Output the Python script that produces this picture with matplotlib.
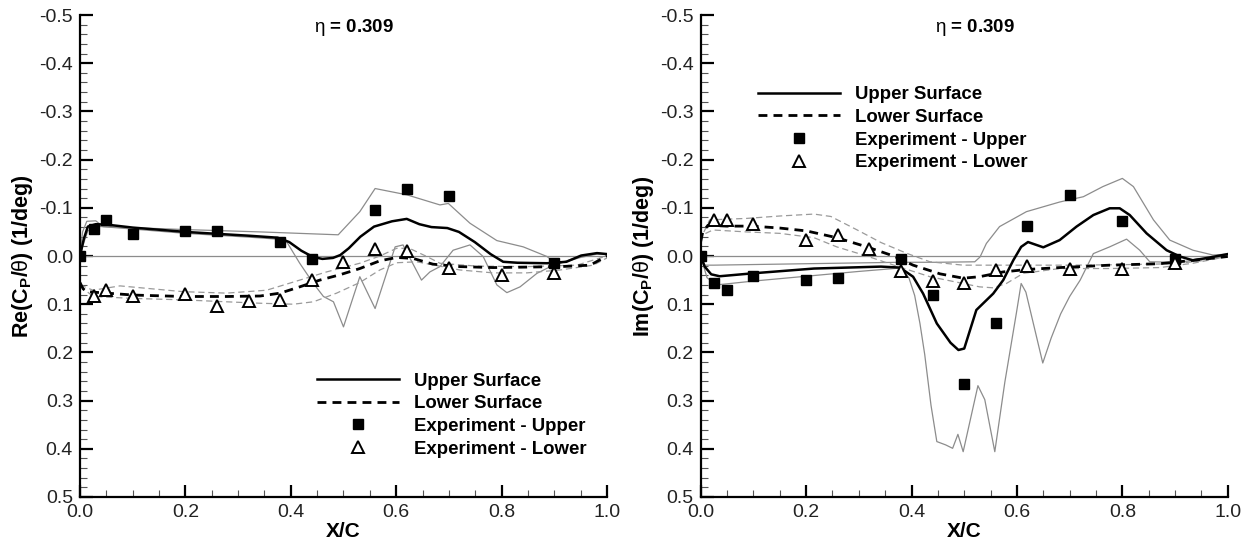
import numpy as np
import matplotlib
matplotlib.use("Agg")
import matplotlib.pyplot as plt
from matplotlib.ticker import MultipleLocator, FormatStrFormatter

plt.rcParams['font.family'] = ['Liberation Sans', 'DejaVu Sans']
plt.rcParams['mathtext.fontset'] = 'custom'
plt.rcParams['mathtext.rm'] = 'Liberation Sans'
plt.rcParams['mathtext.it'] = 'Liberation Sans'
plt.rcParams['mathtext.bf'] = 'Liberation Sans:bold'
plt.rcParams['axes.unicode_minus'] = False

# ---------------- Re(Cp/theta) panel ----------------
re_up_x = [0, 0.0075, 0.015, 0.03, 0.052, 0.10, 0.20, 0.26, 0.322, 0.375, 0.397, 0.42, 0.442, 0.46,
           0.48, 0.494, 0.51, 0.532, 0.558, 0.592, 0.62, 0.644, 0.667, 0.697, 0.719, 0.749, 0.779,
           0.803, 0.83, 0.886, 0.923, 0.951, 0.981, 1.0]
re_up_y = [0, -0.036, -0.061, -0.066, -0.065, -0.059, -0.050, -0.046, -0.042, -0.038, -0.029, -0.011,
           0.002, 0.006, 0.004, -0.002, -0.016, -0.040, -0.061, -0.072, -0.077, -0.066, -0.060, -0.058,
           -0.050, -0.029, -0.004, 0.012, 0.014, 0.015, 0.012, -0.001, -0.006, -0.004]

re_lo_x = [0.0, 0.006, 0.013, 0.051, 0.101, 0.196, 0.278, 0.342, 0.38, 0.417, 0.455, 0.493, 0.531,
           0.569, 0.601, 0.632, 0.670, 0.721, 0.784, 0.848, 0.911, 0.968, 1.0]
re_lo_y = [0.055, 0.068, 0.074, 0.077, 0.081, 0.084, 0.084, 0.083, 0.077, 0.064, 0.050, 0.039, 0.026,
           0.010, 0.003, 0.005, 0.017, 0.022, 0.024, 0.023, 0.022, 0.019, 0.0]

# thin grey bounding curves
re_up_hi_x = [0, 0.005, 0.013, 0.03, 0.044, 0.196, 0.342, 0.49, 0.531, 0.56, 0.62, 0.683, 0.699,
              0.74, 0.791, 0.841, 0.886, 0.905, 0.95, 0.981, 1.0]
re_up_hi_y = [0, -0.05, -0.072, -0.073, -0.061, -0.055, -0.050, -0.044, -0.092, -0.140, -0.127, -0.106,
              -0.109, -0.068, -0.032, -0.019, 0.001, 0.017, 0.0, -0.006, -0.004]
re_up_lo_x = [0, 0.008, 0.015, 0.03, 0.10, 0.20, 0.322, 0.375, 0.392, 0.417, 0.443, 0.462, 0.481,
              0.50, 0.531, 0.56, 0.598, 0.613, 0.648, 0.664, 0.683, 0.708, 0.74, 0.765, 0.791,
              0.81, 0.835, 0.867, 0.898, 0.95, 0.981, 1.0]
re_up_lo_y = [0, -0.03, -0.052, -0.062, -0.056, -0.047, -0.039, -0.035, -0.030, 0.015, 0.057, 0.084,
              0.095, 0.147, 0.043, 0.109, -0.019, -0.023, 0.050, 0.033, 0.022, -0.012, -0.023, 0.001,
              0.060, 0.076, 0.064, 0.036, 0.019, 0.003, -0.004, -0.003]
re_lo_hi_x = [0, 0.025, 0.076, 0.196, 0.278, 0.354, 0.417, 0.468, 0.531, 0.569, 0.601, 0.625,
              0.658, 0.683, 0.753, 0.848, 0.943, 0.99, 1.0]
re_lo_hi_y = [0.060, 0.071, 0.062, 0.074, 0.077, 0.071, 0.050, 0.033, 0.015, 0.0, -0.016, -0.016,
              0.001, 0.015, 0.021, 0.022, 0.019, 0.003, 0.0]
re_lo_lo_x = [0, 0.025, 0.101, 0.196, 0.278, 0.342, 0.405, 0.443, 0.487, 0.531, 0.569, 0.601, 0.639,
              0.721, 0.784, 0.848, 0.911, 0.974, 1.0]
re_lo_lo_y = [0.062, 0.084, 0.088, 0.091, 0.095, 0.098, 0.100, 0.095, 0.077, 0.055, 0.029, 0.014,
              0.012, 0.029, 0.035, 0.035, 0.029, 0.019, 0.004]

re_exp_up_x = [0.0, 0.026, 0.05, 0.10, 0.20, 0.26, 0.38, 0.44, 0.56, 0.62, 0.70, 0.90]
re_exp_up_y = [0.0, -0.057, -0.075, -0.046, -0.051, -0.051, -0.029, 0.007, -0.096, -0.139, -0.124, 0.014]
re_exp_lo_x = [0.026, 0.05, 0.10, 0.20, 0.26, 0.32, 0.38, 0.44, 0.50, 0.56, 0.62, 0.70, 0.80, 0.90]
re_exp_lo_y = [0.082, 0.071, 0.082, 0.079, 0.104, 0.093, 0.091, 0.050, 0.012, -0.014, -0.011, 0.025,
               0.039, 0.036]

# ---------------- Im(Cp/theta) panel ----------------
im_up_x = [0, 0.0076, 0.020, 0.036, 0.098, 0.215, 0.342, 0.378, 0.403, 0.422, 0.448, 0.474, 0.489,
           0.50, 0.523, 0.555, 0.574, 0.593, 0.608, 0.621, 0.65, 0.681, 0.713, 0.745, 0.776, 0.795,
           0.814, 0.846, 0.884, 0.909, 0.934, 0.966, 1.0]
im_up_y = [0, 0.022, 0.038, 0.042, 0.036, 0.026, 0.022, 0.024, 0.043, 0.078, 0.140, 0.180, 0.195,
           0.192, 0.112, 0.078, 0.050, 0.009, -0.019, -0.029, -0.018, -0.033, -0.061, -0.085, -0.099,
           -0.099, -0.085, -0.047, -0.012, 0.001, 0.009, 0.003, -0.004]

im_lo_x = [0.0, 0.004, 0.014, 0.049, 0.098, 0.15, 0.201, 0.258, 0.315, 0.366, 0.403, 0.454, 0.498,
           0.529, 0.574, 0.618, 0.681, 0.776, 0.871, 0.934, 1.0]
im_lo_y = [-0.03, -0.050, -0.064, -0.062, -0.062, -0.058, -0.052, -0.038, -0.019, 0.0, 0.019, 0.037,
           0.046, 0.043, 0.033, 0.028, 0.024, 0.019, 0.016, 0.009, 0.001]

im_up_hi_x = [0, 0.008, 0.024, 0.20, 0.378, 0.45, 0.52, 0.53, 0.542, 0.567, 0.618, 0.681, 0.726,
              0.763, 0.80, 0.821, 0.859, 0.89, 0.934, 0.972, 1.0]
im_up_hi_y = [0, 0.019, 0.019, 0.016, 0.013, 0.013, 0.012, 0.002, -0.026, -0.061, -0.092, -0.112,
              -0.123, -0.144, -0.161, -0.144, -0.075, -0.033, -0.012, -0.002, -0.004]
im_up_lo_x = [0, 0.012, 0.03, 0.10, 0.20, 0.30, 0.378, 0.395, 0.406, 0.416, 0.425, 0.437, 0.448,
              0.465, 0.478, 0.488, 0.498, 0.526, 0.539, 0.558, 0.577, 0.599, 0.608, 0.617, 0.649,
              0.665, 0.683, 0.70, 0.72, 0.745, 0.776, 0.808, 0.833, 0.852, 0.90, 0.95, 1.0]
im_up_lo_y = [0, 0.045, 0.060, 0.052, 0.042, 0.032, 0.025, 0.045, 0.082, 0.140, 0.204, 0.31, 0.385,
              0.392, 0.399, 0.370, 0.406, 0.269, 0.298, 0.406, 0.262, 0.118, 0.057, 0.075, 0.222,
              0.17, 0.12, 0.084, 0.050, -0.005, -0.019, -0.035, -0.012, 0.012, 0.013, 0.008, 0.0]
im_lo_hi_x = [0.0, 0.004, 0.017, 0.087, 0.15, 0.215, 0.247, 0.297, 0.342, 0.39, 0.435, 0.498, 0.555,
              0.618, 0.70, 0.80, 0.90, 0.95, 1.0]
im_lo_hi_y = [-0.03, -0.045, -0.075, -0.078, -0.083, -0.087, -0.082, -0.054, -0.028, -0.006, 0.012,
              0.019, 0.019, 0.019, 0.019, 0.018, 0.016, 0.010, 0.001]
im_lo_lo_x = [0.0, 0.004, 0.023, 0.087, 0.15, 0.215, 0.258, 0.315, 0.372, 0.435, 0.498, 0.529, 0.555,
              0.58, 0.612, 0.681, 0.776, 0.871, 0.934, 1.0]
im_lo_lo_y = [-0.03, -0.044, -0.054, -0.050, -0.047, -0.038, -0.019, 0.0, 0.021, 0.043, 0.057, 0.064,
              0.066, 0.057, 0.036, 0.026, 0.026, 0.024, 0.015, 0.001]

im_exp_up_x = [0.0, 0.025, 0.05, 0.10, 0.20, 0.26, 0.38, 0.44, 0.50, 0.56, 0.62, 0.70, 0.80, 0.90]
im_exp_up_y = [0.0, 0.055, 0.071, 0.041, 0.050, 0.046, 0.006, 0.080, 0.265, 0.140, -0.062, -0.126,
               -0.072, 0.006]
im_exp_lo_x = [0.025, 0.05, 0.10, 0.20, 0.26, 0.32, 0.38, 0.44, 0.50, 0.56, 0.62, 0.70, 0.80, 0.90]
im_exp_lo_y = [-0.074, -0.074, -0.067, -0.033, -0.044, -0.014, 0.031, 0.052, 0.055, 0.029, 0.021,
               0.026, 0.026, 0.014]

eta_text = r'$\eta$ = 0.309'
legend_labels = ['Upper Surface', 'Lower Surface', 'Experiment - Upper', 'Experiment - Lower']

grey = '#8c8c8c'
dash = (0, (3.2, 2.2))


def draw_panel(ax, up, lo, up_hi, up_lo, lo_hi, lo_lo, exp_up, exp_lo, ylabel, leg_xy):
    ax.plot([0, 1], [0, 0], color=grey, lw=0.9)
    ax.plot(*up_hi, color=grey, lw=0.9)
    ax.plot(*up_lo, color=grey, lw=0.9)
    ax.plot(*lo_hi, color='#9a9a9a', lw=0.9, ls=(0, (5, 3)))
    ax.plot(*lo_lo, color='#9a9a9a', lw=0.9, ls=(0, (5, 3)))
    h1, = ax.plot(*up, color='black', lw=1.8)
    h2, = ax.plot(*lo, color='black', lw=2.0, ls=dash)
    h3, = ax.plot(*exp_up, ls='none', marker='s', ms=7, mfc='black', mec='black')
    h4, = ax.plot(*exp_lo, ls='none', marker='^', ms=9, mfc='white', mec='black', mew=1.4)

    ax.set_xlim(0, 1)
    ax.set_ylim(0.5, -0.5)
    ax.spines['top'].set_visible(False)
    ax.spines['right'].set_visible(False)
    ax.spines['left'].set_linewidth(1.6)
    ax.spines['bottom'].set_linewidth(1.6)
    ax.xaxis.set_major_locator(MultipleLocator(0.2))
    ax.xaxis.set_minor_locator(MultipleLocator(0.05))
    ax.yaxis.set_major_locator(MultipleLocator(0.1))
    ax.yaxis.set_minor_locator(MultipleLocator(0.02))
    ax.xaxis.set_major_formatter(FormatStrFormatter('%.1f'))
    ax.yaxis.set_major_formatter(FormatStrFormatter('%.1f'))
    ax.tick_params(which='major', direction='in', length=9, width=1.6, labelsize=14,
                   labelcolor='#222222', pad=5)
    ax.tick_params(which='minor', direction='in', length=5, width=0.8, color='#555555')
    ax.set_xlabel('X/C', fontsize=15, fontweight='bold', labelpad=1)
    ax.set_ylabel(ylabel, fontsize=15.5, fontweight='bold', labelpad=3)
    ax.text(0.52, -0.475, eta_text, fontsize=13.5, fontweight='bold', ha='center', va='center')
    ax.legend([h1, h2, h3, h4], legend_labels, loc='upper left', bbox_to_anchor=leg_xy,
              frameon=False, borderpad=0, borderaxespad=0, handlelength=4.45,
              handletextpad=0.8, labelspacing=0.3, prop={'weight': 'bold', 'size': 13.4})


fig = plt.figure(figsize=(12.49, 5.44), dpi=100)
ax1 = fig.add_axes([0.064, 0.0864, 0.422, 0.886])
ax2 = fig.add_axes([0.561, 0.0864, 0.422, 0.886])

draw_panel(ax1, (re_up_x, re_up_y), (re_lo_x, re_lo_y), (re_up_hi_x, re_up_hi_y),
           (re_up_lo_x, re_up_lo_y), (re_lo_hi_x, re_lo_hi_y), (re_lo_lo_x, re_lo_lo_y),
           (re_exp_up_x, re_exp_up_y), (re_exp_lo_x, re_exp_lo_y),
           r'Re(C$_{\mathbf{P}}$/$\theta$) (1/deg)', (0.449, 0.258))
draw_panel(ax2, (im_up_x, im_up_y), (im_lo_x, im_lo_y), (im_up_hi_x, im_up_hi_y),
           (im_up_lo_x, im_up_lo_y), (im_lo_hi_x, im_lo_hi_y), (im_lo_lo_x, im_lo_lo_y),
           (im_exp_up_x, im_exp_up_y), (im_exp_lo_x, im_exp_lo_y),
           r'Im(C$_{\mathbf{P}}$/$\theta$) (1/deg)', (0.108, 0.852))

fig.savefig('out.png', dpi=100)
